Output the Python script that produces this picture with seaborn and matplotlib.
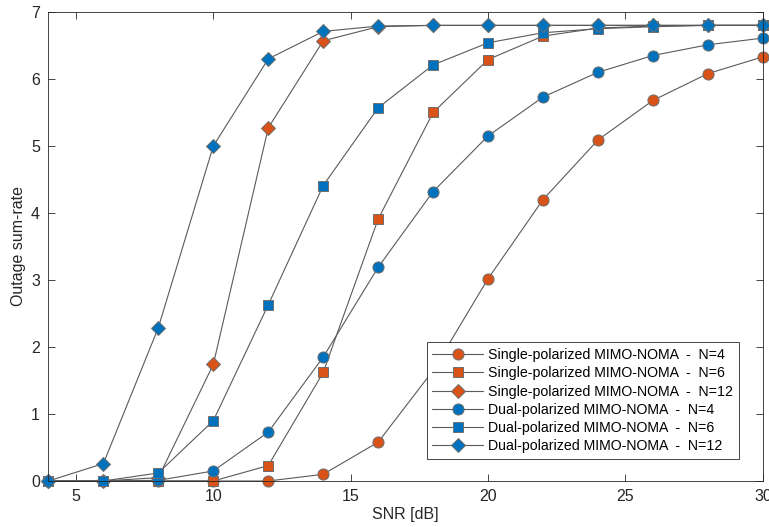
import matplotlib
matplotlib.use("Agg")
import matplotlib.pyplot as plt
import seaborn as sns
import pandas as pd

sns.set_theme(style="white")
plt.rcParams['font.family'] = ['Liberation Sans', 'DejaVu Sans']

snr = [4, 6, 8, 10, 12, 14, 16, 18, 20, 22, 24, 26, 28, 30]
single_n4 = [0, 0, 0, 0, 0, 0.10, 0.58, 1.65, 3.02, 4.20, 5.09, 5.68, 6.08, 6.33]
single_n6 = [0, 0, 0, 0, 0.23, 1.62, 3.91, 5.50, 6.29, 6.64, 6.76, 6.79, 6.80, 6.80]
single_n12 = [0, 0, 0.05, 1.74, 5.27, 6.57, 6.78, 6.80, 6.80, 6.80, 6.80, 6.80, 6.80, 6.80]
dual_n4 = [0, 0, 0.01, 0.15, 0.73, 1.85, 3.19, 4.32, 5.15, 5.73, 6.10, 6.35, 6.51, 6.61]
dual_n6 = [0, 0, 0.12, 0.90, 2.63, 4.41, 5.57, 6.21, 6.54, 6.69, 6.75, 6.78, 6.80, 6.80]
dual_n12 = [0, 0.26, 2.29, 5.00, 6.30, 6.71, 6.79, 6.80, 6.80, 6.80, 6.80, 6.80, 6.80, 6.80]

labels = [
    "Single-polarized MIMO-NOMA  -  N=4",
    "Single-polarized MIMO-NOMA  -  N=6",
    "Single-polarized MIMO-NOMA  -  N=12",
    "Dual-polarized MIMO-NOMA  -  N=4",
    "Dual-polarized MIMO-NOMA  -  N=6",
    "Dual-polarized MIMO-NOMA  -  N=12",
]
series = [single_n4, single_n6, single_n12, dual_n4, dual_n6, dual_n12]
orange = "#D95319"
blue = "#0072BD"
colors = [orange, orange, orange, blue, blue, blue]
markers = ["o", "s", "D", "o", "s", "D"]
msizes = [8, 7, 7.5, 8, 7, 7.5]

fig = plt.figure(figsize=(7.69, 5.27), dpi=100)
ax = fig.add_axes([0.063, 0.0873, 0.929, 0.890])

for lab, ys, c, m, ms in zip(labels, series, colors, markers, msizes):
    df = pd.DataFrame({"snr": snr, "rate": ys})
    sns.lineplot(data=df, x="snr", y="rate", ax=ax, label=lab,
                 color="#5a5a5a", linewidth=0.8, marker=m, markersize=ms,
                 markerfacecolor=c, markeredgecolor="#6e6e6e",
                 markeredgewidth=0.7, clip_on=False)

ax.set_xlim(4, 30)
ax.set_ylim(0, 7)
ax.set_xticks([5, 10, 15, 20, 25, 30])
ax.set_yticks([0, 1, 2, 3, 4, 5, 6, 7])
ax.set_xlabel("SNR [dB]", fontsize=11.5, color="#262626", labelpad=2)
ax.set_ylabel("Outage sum-rate", fontsize=11.5, color="#262626", labelpad=4)
ax.tick_params(axis="both", which="both", direction="in", length=5,
               width=0.6, colors="#262626", labelsize=11.5,
               top=True, right=True, bottom=True, left=True, pad=6)
for s in ax.spines.values():
    s.set_color("#262626")
    s.set_linewidth(0.6)
ax.grid(False)

leg = ax.legend(loc="lower right", bbox_to_anchor=(0.9665, 0.047),
                borderaxespad=0, fontsize=10.2, frameon=True, fancybox=False,
                edgecolor="#262626", framealpha=1, borderpad=0.4,
                labelspacing=0.3, handlelength=3.55, handletextpad=0.4)
leg.get_frame().set_linewidth(0.6)
leg.set_zorder(20)
for t in leg.get_texts():
    t.set_color("#000000")

fig.savefig("out.png", dpi=100)
